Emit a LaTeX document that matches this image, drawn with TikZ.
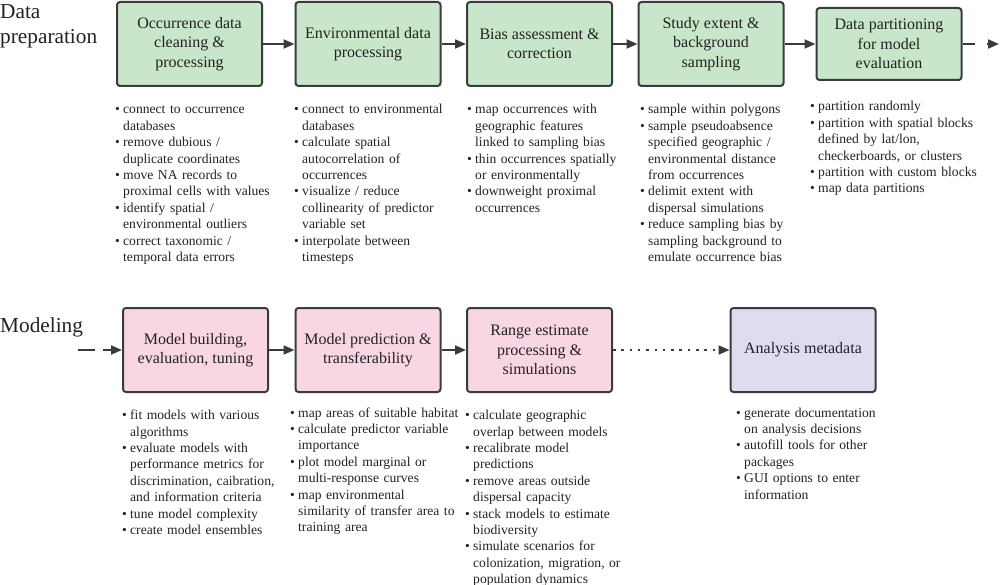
\documentclass[tikz,border=0pt]{standalone}
\usepackage{fontspec}
\setmainfont{Liberation Serif}
\usetikzlibrary{arrows.meta}
\definecolor{grn}{HTML}{C8E6C9}
\definecolor{pnk}{HTML}{F8D6E4}
\definecolor{prp}{HTML}{DEDDF0}
\definecolor{edgec}{HTML}{383B40}
\definecolor{txt}{HTML}{222222}
\newcommand\nl{\hfil\break}
\newcommand\bitem[1]{\par\noindent\hangindent=8pt\hangafter=1\makebox[8pt][l]{\textbullet}\strut#1\par}
\begin{document}
\begin{tikzpicture}[x=1pt,y=-1pt,
  box/.style={draw=edgec, line width=2pt, rounded corners=3pt, align=center, text=txt,
    font=\fontsize{16}{19.5}\selectfont, minimum width=145pt, minimum height=84pt, inner sep=2pt},
  bul/.style={anchor=north west, inner sep=0pt, text width=190pt, align=left, text=txt,
    font=\fontsize{13.6}{16.4}\selectfont},
  arr/.style={draw=edgec, line width=2pt, -{Triangle[length=11pt,width=9pt]}},
  ttl/.style={inner sep=0pt, text=txt, font=\fontsize{21.3}{25}\selectfont, align=left},
]
\useasboundingbox (0,0) rectangle (1000,585);

% titles
\node[ttl, anchor=north west] (t1) at (0,4.5) {Data\\preparation};
\node[ttl, anchor=base west] (t2) at (0,332.7) {Modeling};

% row 1 boxes
\node[box, fill=grn] (A1) at (189.5,44) {Occurrence data\\cleaning \&\\processing};
\node[box, fill=grn] (A2) at (368,44) {Environmental data\\processing};
\node[box, fill=grn] (A3) at (539.5,44) {Bias assessment \&\\correction};
\node[box, fill=grn] (A4) at (711,44) {Study extent \&\\background\\sampling};
\node[box, fill=grn, minimum height=72pt] (A5) at (889,44) {Data partitioning\\for model\\evaluation};

% row 2 boxes
\node[box, fill=pnk] (B1) at (195.5,350) {Model building,\\evaluation, tuning};
\node[box, fill=pnk] (B2) at (368,350) {Model prediction \&\\transferability};
\node[box, fill=pnk] (B3) at (539.5,350) {Range estimate\\processing \&\\simulations};
\node[box, fill=prp] (B4) at (803,350) {Analysis metadata};

% connectors
\draw[arr] (A1) -- (A2);
\draw[arr] (A2) -- (A3);
\draw[arr] (A3) -- (A4);
\draw[arr] (A4) -- (A5);
\coordinate (e1) at (999,44);
\draw[arr, dash pattern=on 12pt off 12pt] (A5) -- (e1);
\coordinate (s2) at (78,350);
\draw[arr, dash pattern=on 17pt off 8pt] (s2) -- (B1);
\draw[arr] (B1) -- (B2);
\draw[arr] (B2) -- (B3);
\draw[arr, dash pattern=on 2.5pt off 5.8pt] (B3) -- (B4);

% bullet lists row 1
\node[bul] (L1) at (115,97.3) {%
\bitem{connect to occurrence\nl databases}
\bitem{remove dubious /\nl duplicate coordinates}
\bitem{move NA records to\nl proximal cells with values}
\bitem{identify spatial /\nl environmental outliers}
\bitem{correct taxonomic /\nl temporal data errors}};

\node[bul] (L2) at (294,97.3) {%
\bitem{connect to environmental\nl databases}
\bitem{calculate spatial\nl autocorrelation of\nl occurrences}
\bitem{visualize / reduce\nl collinearity of predictor\nl variable set}
\bitem{interpolate between\nl timesteps}};

\node[bul] (L3) at (467,97.3) {%
\bitem{map occurrences with\nl geographic features\nl linked to sampling bias}
\bitem{thin occurrences spatially\nl or environmentally}
\bitem{downweight proximal\nl occurrences}};

\node[bul] (L4) at (640,97.3) {%
\bitem{sample within polygons}
\bitem{sample pseudoabsence\nl specified geographic /\nl environmental distance\nl from occurrences}
\bitem{delimit extent with\nl dispersal simulations}
\bitem{reduce sampling bias by\nl sampling background to\nl emulate occurrence bias}};

\node[bul] (L5) at (810,94.3) {%
\bitem{partition randomly}
\bitem{partition with spatial blocks\nl defined by lat/lon,\nl checkerboards, or clusters}
\bitem{partition with custom blocks}
\bitem{map data partitions}};

% bullet lists row 2
\node[bul] (M1) at (122,403) {%
\bitem{fit models with various\nl algorithms}
\bitem{evaluate models with\nl performance metrics for\nl discrimination, caibration,\nl and information criteria}
\bitem{tune model complexity}
\bitem{create model ensembles}};

\node[bul] (M2) at (290,400.5) {%
\bitem{map areas of suitable habitat}
\bitem{calculate predictor variable\nl importance}
\bitem{plot model marginal or\nl multi-response curves}
\bitem{map environmental\nl similarity of transfer area to\nl training area}};

\node[bul] (M3) at (465,403) {%
\bitem{calculate geographic\nl overlap between models}
\bitem{recalibrate model\nl predictions}
\bitem{remove areas outside\nl dispersal capacity}
\bitem{stack models to estimate\nl biodiversity}
\bitem{simulate scenarios for\nl colonization, migration, or\nl population dynamics}};

\node[bul] (M4) at (736,400.5) {%
\bitem{generate documentation\nl on analysis decisions}
\bitem{autofill tools for other\nl packages}
\bitem{GUI options to enter\nl information}};
\end{tikzpicture}
\end{document}
